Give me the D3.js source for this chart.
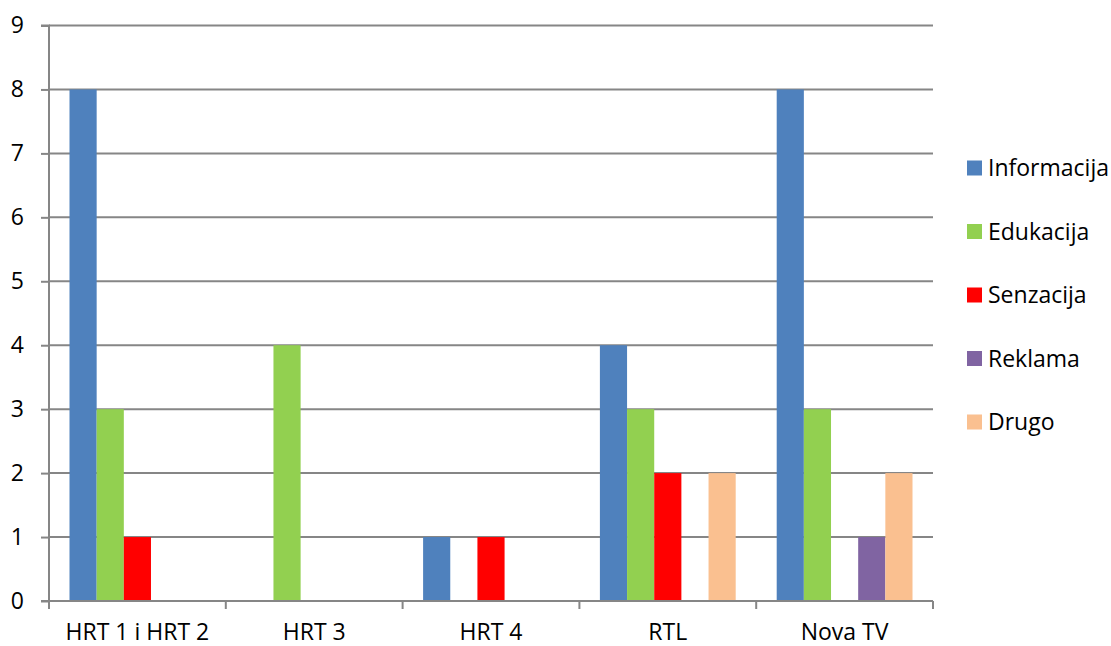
<!DOCTYPE html>
<html>
<head>
<meta charset="utf-8">
<script src="https://cdn.jsdelivr.net/npm/d3@7"></script>
<style>
  body { margin: 0; background: #fff; }
  text { font-family: "Open Sans", "Noto Sans", sans-serif; fill: #000; }
</style>
</head>
<body>
<script>
var channels = ["HRT 1 i HRT 2", "HRT 3", "HRT 4", "RTL", "Nova TV"];
var seriesNames = ["Informacija", "Edukacija", "Senzacija", "Reklama", "Drugo"];
var informacija = [8, 0, 1, 4, 8];
var edukacija = [3, 4, 0, 3, 3];
var senzacija = [1, 0, 1, 2, 0];
var reklama = [0, 0, 0, 0, 1];
var drugo = [0, 0, 0, 2, 2];
var yTicks = [0, 1, 2, 3, 4, 5, 6, 7, 8, 9];
var colors = ["#4f81bd", "#92d050", "#ff0000", "#8064a2", "#fac090"];

var seriesValues = [informacija, edukacija, senzacija, reklama, drugo];

var width = 1111, height = 646;
var plot = {left: 49, right: 933, top: 25.5, bottom: 601};
var fontSize = "23px";

var svg = d3.select("body").append("svg")
    .attr("width", width)
    .attr("height", height);

var x0 = d3.scaleBand()
    .domain(channels)
    .range([plot.left, plot.right]);

var x1 = d3.scaleBand()
    .domain(seriesNames)
    .range([20.5, x0.bandwidth() - 20.5]);

var y = d3.scaleLinear()
    .domain([0, 9])
    .range([plot.bottom, plot.top]);

// gridlines
svg.append("g")
    .selectAll("line")
    .data(yTicks.slice(1))
    .enter()
    .append("line")
    .attr("x1", plot.left)
    .attr("x2", plot.right)
    .attr("y1", d => y(d))
    .attr("y2", d => y(d))
    .attr("stroke", "#868686")
    .attr("stroke-width", 2);

// bars
var groups = svg.append("g")
    .selectAll("g")
    .data(channels)
    .enter()
    .append("g")
    .attr("transform", d => `translate(${x0(d)},0)`);

groups.selectAll("rect")
    .data((c, ci) => seriesNames.map((s, si) => ({series: s, idx: si, value: seriesValues[si][ci]})))
    .enter()
    .append("rect")
    .filter(d => d.value > 0)
    .attr("x", d => x1(d.series))
    .attr("width", x1.bandwidth())
    .attr("y", d => y(d.value))
    .attr("height", d => y(0) - y(d.value))
    .attr("fill", d => colors[d.idx]);

// y axis
var yAxis = d3.axisLeft(y)
    .tickValues(yTicks)
    .tickSize(8)
    .tickPadding(17)
    .tickFormat(d3.format("d"));

var yG = svg.append("g")
    .attr("transform", `translate(${plot.left},0)`)
    .call(yAxis);

// x axis
var xAxis = d3.axisBottom(x0)
    .tickSize(0)
    .tickPadding(23);

var xG = svg.append("g")
    .attr("transform", `translate(0,${plot.bottom})`)
    .call(xAxis);

// category boundary ticks
xG.selectAll(".bound")
    .data(channels.map(c => x0(c)).concat([plot.right]))
    .enter()
    .append("line")
    .attr("class", "bound")
    .attr("x1", d => d)
    .attr("x2", d => d)
    .attr("y1", 0)
    .attr("y2", 8)
    .attr("stroke", "#868686")
    .attr("stroke-width", 2);

[yG, xG].forEach(g => {
    g.select(".domain").attr("stroke", "#868686").attr("stroke-width", 2);
    g.selectAll(".tick line").attr("stroke", "#868686").attr("stroke-width", 2);
    g.selectAll(".tick text")
        .style("font-family", "'Open Sans', 'Noto Sans', sans-serif")
        .style("font-size", fontSize)
        .attr("fill", "#000");
});
yG.select(".domain").attr("d", `M-8,${plot.top}H0V${plot.bottom}H-8`);
xG.select(".domain").attr("d", `M${plot.left},0H${plot.right}`);

// legend
var legend = svg.append("g")
    .attr("transform", "translate(967,168)");

var items = legend.selectAll("g")
    .data(seriesNames)
    .enter()
    .append("g")
    .attr("transform", (d, i) => `translate(0,${i * 63.5})`);

items.append("rect")
    .attr("x", 0)
    .attr("y", -7.5)
    .attr("width", 15)
    .attr("height", 15)
    .attr("fill", (d, i) => colors[i]);

items.append("text")
    .attr("x", 21)
    .attr("dy", "0.35em")
    .style("font-size", fontSize)
    .text(d => d);
</script>
</body>
</html>
